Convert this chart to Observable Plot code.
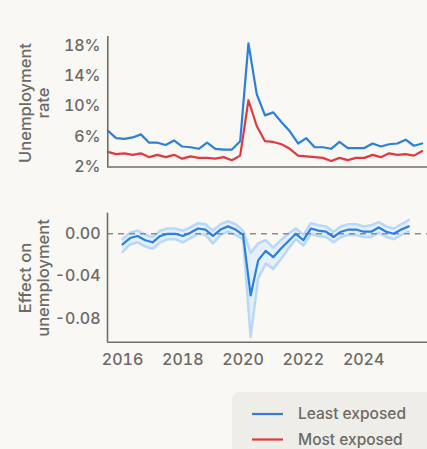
<!DOCTYPE html>
<html>
<head>
<meta charset="utf-8">
<script src="https://cdn.jsdelivr.net/npm/d3@7"></script>
<script src="https://cdn.jsdelivr.net/npm/@observablehq/plot@0.6"></script>
<style>
  html, body { margin: 0; padding: 0; background: #f9f8f4; }
  #wrap { position: relative; width: 427px; height: 449px; overflow: hidden; background: #f9f8f4; font-family: Inter, "Open Sans", sans-serif; }
  #top, #bottom { position: absolute; left: 0; }
  #top { top: 0; }
  #bottom { top: 190px; }
  #legend { position: absolute; left: 232px; top: 392px; width: 220px; height: 90px; background: #efede7; border-radius: 8px; }
</style>
</head>
<body>
<div id="wrap">
  <div id="top"></div>
  <div id="bottom"></div>
  <div id="legend"></div>
</div>
<script>
// Quarterly time points (decimal years), 2016Q1 .. 2025Q3
const quarters = [2016, 2016.25, 2016.5, 2016.75, 2017, 2017.25, 2017.5, 2017.75,
  2018, 2018.25, 2018.5, 2018.75, 2019, 2019.25, 2019.5, 2019.75,
  2020, 2020.25, 2020.5, 2020.75, 2021, 2021.25, 2021.5, 2021.75,
  2022, 2022.25, 2022.5, 2022.75, 2023, 2023.25, 2023.5, 2023.75,
  2024, 2024.25, 2024.5, 2024.75, 2025, 2025.25, 2025.5];

// Unemployment rate (%)
const leastExposed = [6.8, 5.8, 5.7, 5.9, 6.3, 5.2, 5.2, 4.9, 5.5, 4.7, 4.6, 4.4, 5.2, 4.4, 4.3, 4.3,
  5.4, 18.3, 11.6, 8.8, 9.2, 7.9, 6.7, 5.1, 5.8, 4.6, 4.6, 4.4, 5.3, 4.5, 4.5, 4.5,
  5.1, 4.7, 5.0, 5.1, 5.6, 4.8, 5.1];
const mostExposed = [4.0, 3.7, 3.8, 3.6, 3.8, 3.3, 3.6, 3.3, 3.6, 3.1, 3.4, 3.2, 3.2, 3.1, 3.3, 2.9,
  3.5, 10.8, 7.4, 5.4, 5.3, 5.0, 4.4, 3.5, 3.4, 3.3, 3.2, 2.8, 3.2, 2.9, 3.2, 3.2,
  3.6, 3.3, 3.8, 3.6, 3.7, 3.5, 4.1];

// Effect on unemployment (estimate and interval)
const effect = [-0.010, -0.004, -0.002, -0.006, -0.008, -0.002, 0.000, 0.000, -0.002, 0.001,
  0.005, 0.004, -0.002, 0.004, 0.007, 0.004, -0.001, -0.058, -0.025, -0.016, -0.022, -0.014,
  -0.007, 0.000, -0.006, 0.005, 0.003, 0.002, -0.003, 0.002, 0.004, 0.004, 0.002, 0.002,
  0.006, 0.002, 0.000, 0.004, 0.007];
const effectUpper = [-0.005, 0.001, 0.003, -0.001, -0.003, 0.003, 0.005, 0.005, 0.003, 0.006,
  0.010, 0.009, 0.003, 0.009, 0.012, 0.009, 0.003, -0.018, -0.009, -0.006, -0.013, -0.006,
  0.000, 0.005, -0.001, 0.010, 0.008, 0.007, 0.002, 0.007, 0.009, 0.009, 0.007, 0.008,
  0.011, 0.007, 0.005, 0.009, 0.013];
const effectLower = [-0.017, -0.010, -0.008, -0.012, -0.014, -0.008, -0.005, -0.005, -0.008, -0.004,
  0.000, -0.001, -0.009, -0.001, 0.002, -0.001, -0.005, -0.097, -0.042, -0.028, -0.033, -0.024,
  -0.014, -0.005, -0.011, 0.000, -0.002, -0.003, -0.008, -0.003, -0.001, -0.001, -0.003, -0.003,
  0.001, -0.003, -0.005, -0.001, 0.002];

const rateTicks = [2, 6, 10, 14, 18];
const effectTicks = [0, -0.04, -0.08];
const yearTicks = [2016, 2018, 2020, 2022, 2024];
const seriesNames = ["Least exposed", "Most exposed"];
const seriesColors = ["#2b7fde", "#e2393d"];

const rateRows = quarters.flatMap((q, i) => [
  {t: q, v: leastExposed[i], s: seriesNames[0]},
  {t: q, v: mostExposed[i], s: seriesNames[1]}
]);
const effectRows = quarters.map((q, i) => ({t: q, v: effect[i], lo: effectLower[i], hi: effectUpper[i]}));

const axisColor = "#6f6e6a";
const textColor = "#6b6a66";
const font = "Inter, 'Open Sans', sans-serif";

const topPlot = Plot.plot({
  width: 427, height: 180,
  marginLeft: 107, marginRight: 0, marginTop: 36, marginBottom: 13,
  style: {background: "transparent", fontFamily: font, fontSize: "16px", fontWeight: 500, color: textColor},
  x: {domain: [2016, 2025.66], range: [107.3, 427], axis: null},
  y: {domain: [2, 19.2], range: [166.5, 36], ticks: rateTicks, tickFormat: d => d + "%", tickSize: 0, tickPadding: 7, label: null},
  color: {domain: seriesNames, range: seriesColors},
  marks: [
    Plot.lineY(rateRows, {x: "t", y: "v", stroke: "s", strokeWidth: 2.2}),
    Plot.ruleX([2016], {stroke: axisColor, strokeWidth: 1.6}),
    Plot.ruleY([2], {stroke: axisColor, strokeWidth: 1.6})
  ]
});
document.getElementById("top").appendChild(topPlot);

const bottomPlot = Plot.plot({
  width: 427, height: 190,
  marginLeft: 107, marginRight: 0, marginTop: 22.7, marginBottom: 38.3,
  style: {background: "transparent", fontFamily: font, fontSize: "16px", fontWeight: 500, color: textColor},
  x: {domain: [2015.5, 2026.12], range: [107, 427], ticks: yearTicks, tickFormat: d => String(d), tickSize: 0, tickPadding: 11, label: null},
  y: {domain: [-0.102, 0.0194], range: [151.7, 22.7], ticks: effectTicks, tickFormat: d => d.toFixed(2), tickSize: 0, tickPadding: 7, label: null},
  marks: [
    Plot.areaY(effectRows, {x: "t", y1: "lo", y2: "hi", fill: "#e4effc"}),
    Plot.lineY(effectRows, {x: "t", y: "lo", stroke: "#b9d7f6", strokeWidth: 2.5}),
    Plot.lineY(effectRows, {x: "t", y: "hi", stroke: "#b9d7f6", strokeWidth: 2.5}),
    Plot.ruleY([0], {stroke: "#8e8d89", strokeWidth: 1.6, strokeDasharray: "6,5"}),
    Plot.lineY(effectRows, {x: "t", y: "v", stroke: "#2b7fde", strokeWidth: 2.2}),
    Plot.ruleX([2015.5], {stroke: axisColor, strokeWidth: 1.6}),
    Plot.ruleY([-0.102], {stroke: axisColor, strokeWidth: 1.6})
  ]
});
document.getElementById("bottom").appendChild(bottomPlot);

function addRotatedLabel(svg, lines, cy) {
  const s = d3.select(svg);
  lines.forEach(([txt, x]) => {
    s.append("text")
      .attr("transform", `translate(${x},${cy}) rotate(-90)`)
      .attr("text-anchor", "middle")
      .attr("dy", "0.36em")
      .attr("fill", textColor)
      .style("font-family", font)
      .style("font-size", "16.5px")
      .style("font-weight", 500)
      .text(txt);
  });
}
addRotatedLabel(topPlot, [["Unemployment", 25], ["rate", 43]], 103);
addRotatedLabel(bottomPlot, [["Effect on", 25], ["unemployment", 43]], 88);

// Legend
const leg = d3.select("#legend").append("svg").attr("width", 220).attr("height", 90);
seriesNames.forEach((name, i) => {
  const y = 22 + i * 25.5;
  leg.append("line").attr("x1", 20).attr("x2", 51).attr("y1", y).attr("y2", y)
    .attr("stroke", seriesColors[i]).attr("stroke-width", 2.2);
  leg.append("text").attr("x", 66).attr("y", y).attr("dy", "0.35em")
    .attr("fill", textColor).style("font-family", font).style("font-size", "15.5px").style("font-weight", 500)
    .text(name);
});
</script>
</body>
</html>
